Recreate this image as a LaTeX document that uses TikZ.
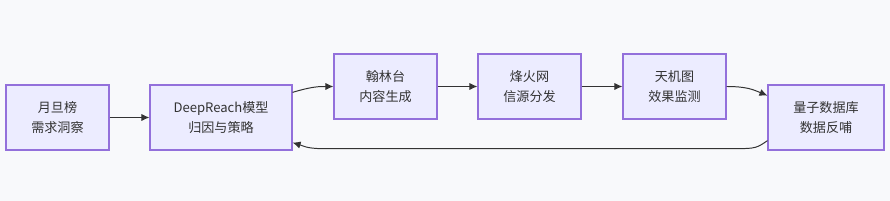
\documentclass[tikz,border=0pt]{standalone}
\usepackage{fontspec}
\setmainfont{Noto Sans CJK SC}
\usetikzlibrary{arrows.meta,positioning,calc}
\definecolor{mmdFill}{RGB}{236,236,255}
\definecolor{mmdLine}{RGB}{147,112,219}
\definecolor{mmdText}{RGB}{51,51,51}
\definecolor{softGray}{RGB}{248,249,251}

\begin{document}
\begin{tikzpicture}[x=0.025cm,y=-0.025cm,
        box/.style={draw=mmdLine,fill=mmdFill,line width=0.8pt,align=center,text=mmdText,
          font=\fontsize{9.3}{14.2}\selectfont,minimum width=2.575cm,minimum height=1.625cm,inner sep=0pt},
        arrow/.style={-{Latex[length=2mm,width=1.8mm]},line width=0.7pt,draw=mmdText}
      ]
        \fill[softGray] (0,0) rectangle (890,201);
        \useasboundingbox (0,0) rectangle (890,201);

        \node[box] (yuedan) at (57.5,117.5) {月旦榜\\需求洞察};
        \node[box,minimum width=3.55cm] (deep) at (221,117.5) {DeepReach模型\\归因与策略};
        \node[box] (hanlin) at (385.5,86.5) {翰林台\\内容生成};
        \node[box] (fenghuo) at (529.5,86.5) {烽火网\\信源分发};
        \node[box] (tianji) at (674.5,86.5) {天机图\\效果监测};
        \node[box,minimum width=2.9cm] (liangzi) at (826,117.5) {量子数据库\\数据反哺};

        \coordinate (deepOut) at ($(deep.north east)!0.12!(deep.south east)$);
        \coordinate (deepIn) at ($(deep.north east)!0.88!(deep.south east)$);
        \coordinate (lzIn) at ($(liangzi.north west)!0.17!(liangzi.south west)$);
        \coordinate (lzOut) at ($(liangzi.north west)!0.85!(liangzi.south west)$);

        \draw[arrow] (yuedan) -- (deep);
        \draw[arrow] (deepOut) .. controls +(20,-6) and +(-14,0) .. (hanlin.west);
        \draw[arrow] (hanlin) -- (fenghuo);
        \draw[arrow] (fenghuo) -- (tianji);
        \draw[arrow] (tianji.east) .. controls +(20,0) and +(-14,-6) .. (lzIn);
        \draw[arrow] (lzOut) .. controls +(-10,7) and +(18,0) .. ($(lzOut)+(-30,8)$)
          -- ($(deepIn)+(30,6)$) .. controls +(-16,0) and +(10,3) .. (deepIn);
      \end{tikzpicture}
\end{document}
